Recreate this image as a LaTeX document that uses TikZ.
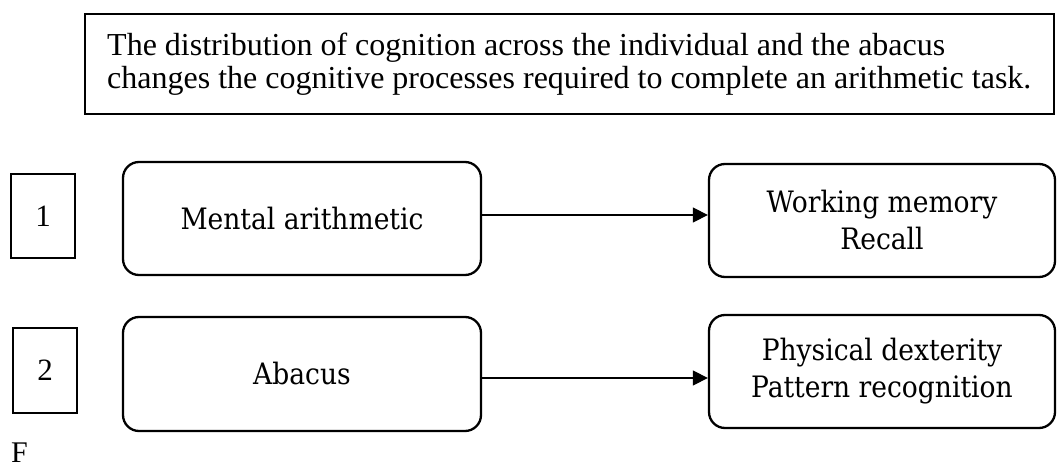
\documentclass[tikz,border=0pt]{standalone}
\usepackage{fontspec}
\setmainfont{Liberation Serif}
\newfontfamily\boxfont{DejaVu Serif Condensed}
\usetikzlibrary{arrows.meta}
\tikzset{
  claim/.style={draw, line width=2.8pt, rectangle, inner sep=0pt},
  numbox/.style={draw, line width=2pt, rectangle, minimum width=64pt, minimum height=84pt, inner sep=0pt,
    font=\fontsize{31}{35}\selectfont},
  stage/.style={draw, line width=2.3pt, rounded corners=16pt, rectangle, minimum width=358pt, minimum height=113pt,
    inner sep=0pt, align=center, font=\boxfont\fontsize{29.5}{37}\selectfont},
  outcome/.style={stage, minimum width=346pt},
  flow/.style={line width=1.3pt, -{Triangle[length=15pt,width=15pt]}}
}
\begin{document}
\begin{tikzpicture}[x=1pt,y=-1pt]
\useasboundingbox (0,0) rectangle (1058,468);
% statement box
\node[claim, minimum width=969pt, minimum height=100pt] (claim) at (569.5,64) {};
\node[anchor=west, align=left, inner sep=0pt, font=\fontsize{32}{33.5}\selectfont] (claimtext) at (107,64)
  {The distribution of cognition across the individual and the abacus\\
   changes the cognitive processes required to complete an arithmetic task.};
% row numbers
\node[numbox] (n1) at (43,216) {1};
\node[numbox, minimum height=85pt] (n2) at (45,370.5) {2};
% stages
\node[stage] (mental) at (302,218.5) {Mental arithmetic};
\node[stage, minimum height=114pt] (abacus) at (302,374) {Abacus};
% processes
\node[outcome] (wm) at (882,220.5) {Working memory\\Recall};
\node[outcome, minimum height=113pt] (phys) at (882,371.5) {Physical dexterity\\Pattern recognition};
% connectors
\draw[flow] ([yshift=3.5pt]mental.east) -- ([yshift=3.5pt]mental.east -| wm.west);
\draw[flow] ([yshift=-4pt]abacus.east) -- ([yshift=-4pt]abacus.east -| phys.west);
% trailing caption letter
\node[anchor=base west, inner sep=0pt, font=\fontsize{30}{34}\selectfont] (fig) at (11,462) {F};
\end{tikzpicture}
\end{document}
